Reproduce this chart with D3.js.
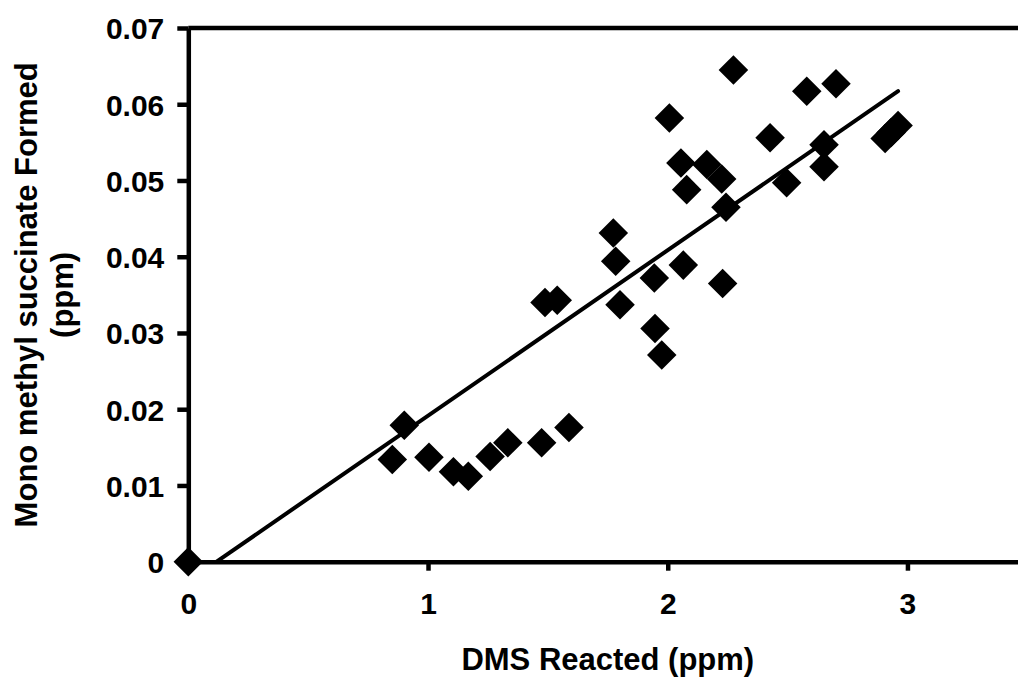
<!DOCTYPE html>
<html lang="en">
	<head>
		<meta charset="utf-8">
		<title>D3: DMS reacted vs mono methyl succinate formed</title>
		<script type="text/javascript" src="https://d3js.org/d3.v7.min.js"></script>
		<style type="text/css">
			body{
				margin: 0;
				background: #fff;
			}
			text{
				font-family: "Liberation Sans", Arial, sans-serif;
				font-weight: bold;
				fill: #000;
			}
		</style>
	</head>
	<body>
		<script type="text/javascript">

			//Data
			var dmsReacted = [0, 0.851, 0.901, 1.004, 1.106, 1.168, 1.259, 1.333, 1.474, 1.588,
							  1.488, 1.539, 1.773, 1.783, 1.801, 1.944, 1.947, 1.975,
							  2.007, 2.055, 2.079, 2.065, 2.163, 2.225, 2.243, 2.229, 2.274,
							  2.427, 2.496, 2.580, 2.652, 2.652, 2.702, 2.907, 2.932, 2.961];
			var mmsFormed = [0, 0.0134, 0.0179, 0.0137, 0.0118, 0.0112, 0.0138, 0.0156, 0.0156, 0.0176,
							 0.0340, 0.0343, 0.0431, 0.0394, 0.0337, 0.0372, 0.0306, 0.0271,
							 0.0582, 0.0523, 0.0488, 0.0389, 0.0521, 0.0502, 0.0465, 0.0365, 0.0645,
							 0.0556, 0.0497, 0.0617, 0.0547, 0.0518, 0.0627, 0.0555, 0.0563, 0.0572];

			//Linear trendline
			var trendSlope = 0.02171;
			var trendIntercept = -0.00256;

			//Tick values
			var xTicks = [0, 1, 2, 3];
			var yTicks = [0, 0.01, 0.02, 0.03, 0.04, 0.05, 0.06, 0.07];

			var dataset = dmsReacted.map(function(d, i) { return [d, mmsFormed[i]]; });

			//Width and height
			var w = 1018;
			var h = 678;
			var plot = {left: 188.3, top: 28, right: 1027.3, bottom: 561.7};

			//Scales
			var xScale = d3.scaleLinear()
							.domain([0, 3.5])
							.range([plot.left, plot.right]);

			var yScale = d3.scaleLinear()
							.domain([0, 0.07])
							.range([plot.bottom, plot.top]);

			//Create SVG element
			var svg = d3.select("body")
						.append("svg")
						.attr("width", w)
						.attr("height", h);

			svg.append("clipPath")
				.attr("id", "plotclip")
				.append("rect")
				.attr("x", plot.left)
				.attr("y", plot.top)
				.attr("width", plot.right - plot.left)
				.attr("height", plot.bottom - plot.top);

			//Top border of the plot area
			svg.append("line")
				.attr("x1", plot.left)
				.attr("x2", plot.right)
				.attr("y1", plot.top)
				.attr("y2", plot.top)
				.attr("stroke", "#000")
				.attr("stroke-width", 4.5);

			//X axis
			var xAxis = d3.axisBottom(xScale)
							.tickValues(xTicks)
							.tickFormat(d3.format("d"))
							.tickSizeInner(9)
							.tickSizeOuter(0)
							.tickPadding(22);

			var gx = svg.append("g")
				.attr("transform", "translate(0," + plot.bottom + ")")
				.call(xAxis);

			//Y axis
			var yAxis = d3.axisLeft(yScale)
							.tickValues(yTicks)
							.tickFormat(function(d) { return d === 0 ? "0" : d3.format(".2f")(d); })
							.tickSizeInner(11)
							.tickSizeOuter(0)
							.tickPadding(13);

			var gy = svg.append("g")
				.attr("transform", "translate(" + plot.left + ",0)")
				.call(yAxis);

			[gx, gy].forEach(function(g) {
				g.select(".domain").attr("stroke", "#000").attr("stroke-width", 4.5);
				g.selectAll(".tick line").attr("stroke", "#000").attr("stroke-width", 4.5);
				g.selectAll(".tick text")
					.attr("font-size", "30px")
					.attr("font-family", "'Liberation Sans', Arial, sans-serif")
					.attr("font-weight", "bold")
					.attr("fill", "#000");
			});
			gy.selectAll(".tick text").attr("dy", "0.36em");

			//Trendline, clipped to the plot area
			var xMax = d3.max(dmsReacted);
			svg.append("line")
				.attr("clip-path", "url(#plotclip)")
				.attr("x1", xScale(0))
				.attr("y1", yScale(trendIntercept))
				.attr("x2", xScale(xMax))
				.attr("y2", yScale(trendSlope * xMax + trendIntercept))
				.attr("stroke", "#000")
				.attr("stroke-width", 4)
				.attr("stroke-linecap", "round");

			//Diamonds
			var diamond = d3.symbol().type(d3.symbolSquare).size(436);
			svg.selectAll("path.point")
			   .data(dataset)
			   .enter()
			   .append("path")
			   .attr("class", "point")
			   .attr("d", diamond)
			   .attr("transform", function(d) {
			   		return "translate(" + xScale(d[0]) + "," + yScale(d[1]) + ") rotate(45)";
			   })
			   .attr("fill", "#000");

			//Axis titles
			svg.append("text")
				.attr("x", (plot.left + plot.right) / 2)
				.attr("y", 670)
				.attr("text-anchor", "middle")
				.attr("font-size", "31px")
				.text("DMS Reacted (ppm)");

			var yTitle = svg.append("text")
				.attr("transform", "translate(37," + ((plot.top + plot.bottom) / 2) + ") rotate(-90)")
				.attr("text-anchor", "middle")
				.attr("font-size", "31px");
			yTitle.append("tspan")
				.attr("x", 0)
				.attr("y", 0)
				.text("Mono methyl succinate Formed");
			yTitle.append("tspan")
				.attr("x", 0)
				.attr("y", 36)
				.text("(ppm)");

		</script>
	</body>
</html>
